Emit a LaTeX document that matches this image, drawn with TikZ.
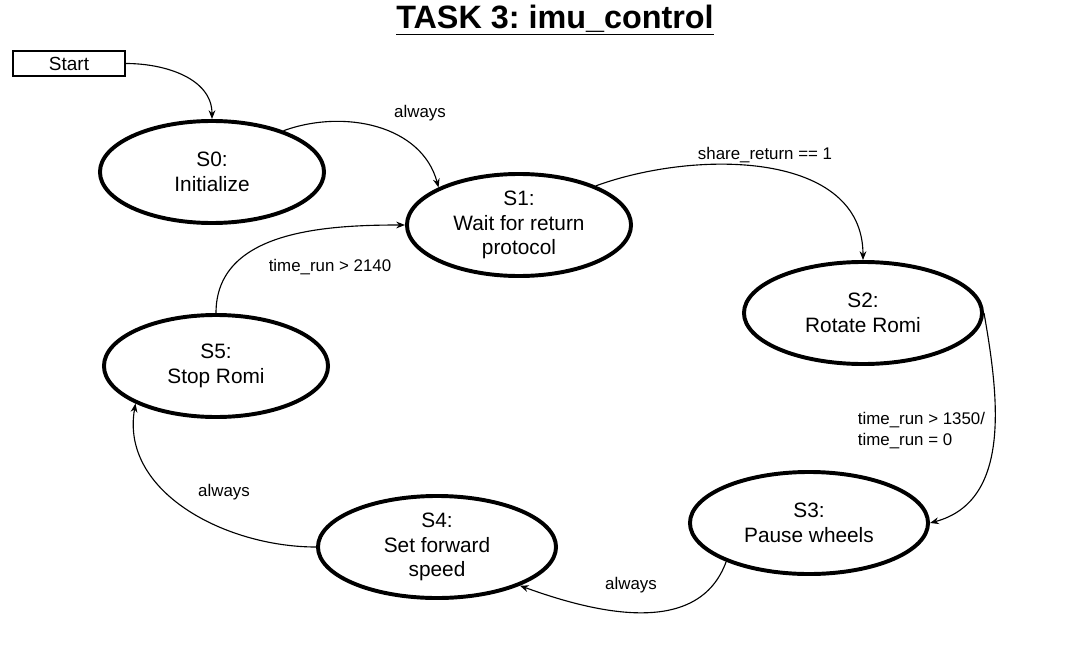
\documentclass[tikz,border=0pt]{standalone}
\usepackage{fontspec}
\setmainfont{Liberation Sans}
\usetikzlibrary{shapes.geometric,arrows.meta}

\begin{document}
\frenchspacing
\begin{tikzpicture}[x=0.025cm,y=0.025cm,
  state/.style={draw,ellipse,line width=2.8pt,inner sep=0pt,align=center,
    minimum width=5.6cm,minimum height=2.55cm,font=\fontsize{14.8}{17.5}\selectfont},
  widestate/.style={state,minimum width=5.95cm},
  startbox/.style={draw,line width=1.3pt,minimum width=2.8cm,minimum height=0.62cm,
    inner sep=0pt,font=\fontsize{13.5}{16}\selectfont},
  trans/.style={-{Stealth[length=2.2mm,width=1.7mm]},line width=0.8pt},
  lbl/.style={font=\fontsize{12}{15}\selectfont}]
\useasboundingbox (0,0) rectangle (1070,667);
% title
\node (title) at (555,647) {\fontsize{23}{28}\selectfont\bfseries\underline{TASK 3: imu\_control}};
% states
\node[startbox] (start) at (69,603.5) {Start};
\node[state] (s0) at (212,495) {S0:\\Initialize};
\node[state] (s1) at (519,442) {S1:\\Wait for return\\protocol};
\node[widestate] (s2) at (863,354) {S2:\\Rotate Romi};
\node[widestate] (s3) at (809,144) {S3:\\Pause wheels};
\node[widestate] (s4) at (437,120) {S4:\\Set forward\\speed};
\node[state] (s5) at (216,301) {S5:\\Stop Romi};
% transitions
\draw[trans] (start.east) to[out=0,in=90] (s0.north);
\draw[trans] (s0.30) to[out=20,in=105] (s1.155);
\draw[trans] (s1.27) to[out=20,in=90] (s2.north);
\draw[trans] (s2.east) to[out=-80,in=15] (s3.east);
\draw[trans] (s3.205) to[out=-110,in=-20] (s4.-25);
\draw[trans] (s4.west) to[out=180,in=-100] (s5.205);
\draw[trans] (s5.north) to[out=90,in=180] (s1.west);
% labels
\node[lbl] (l01) at (420,554) {always};
\node[lbl] (l12) at (765,512) {share\_return == 1};
\node[lbl,anchor=west,align=left] (l23) at (853,236) {time\_run > 1350/\\time\_run = 0};
\node[lbl] (l34) at (631,82) {always};
\node[lbl] (l45) at (224,175) {always};
\node[lbl] (l51) at (330,400) {time\_run > 2140};
\end{tikzpicture}
\end{document}
